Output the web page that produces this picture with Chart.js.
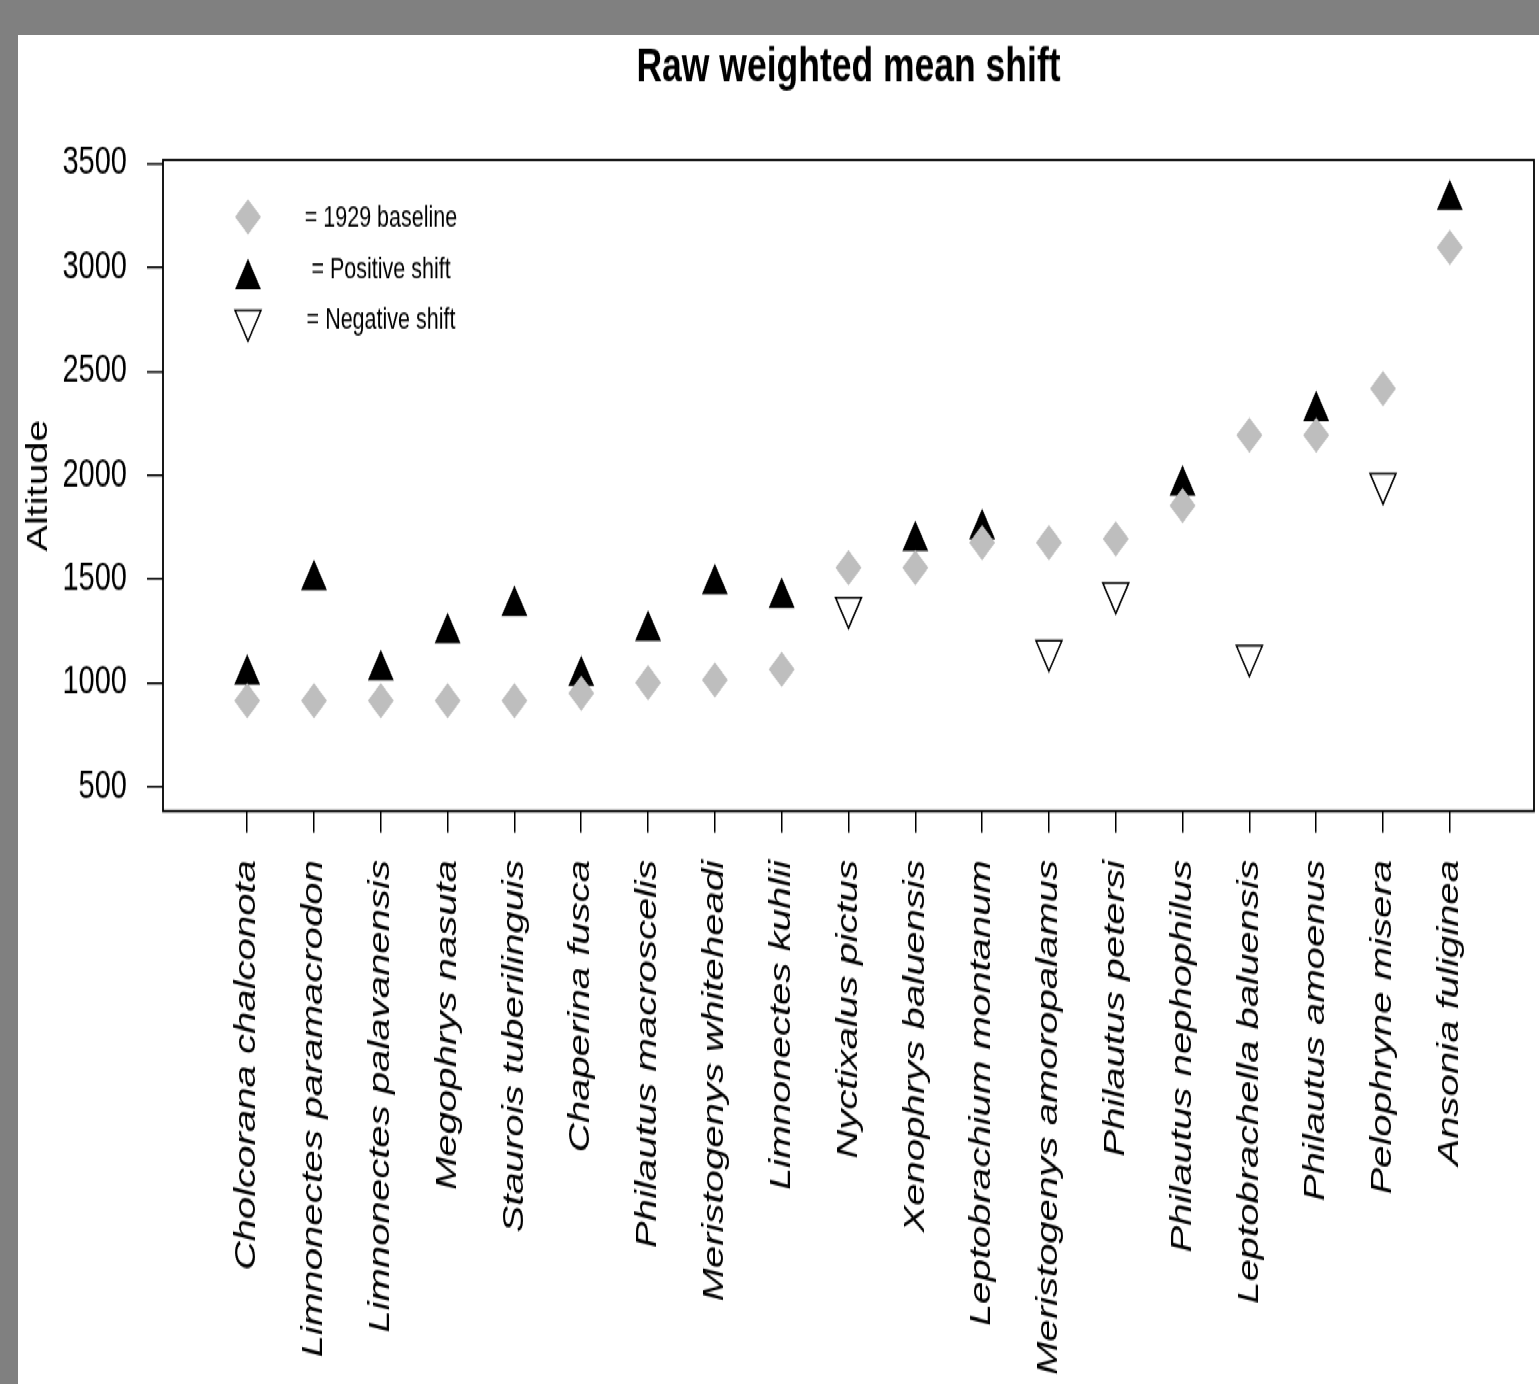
<!DOCTYPE html>
<html>
<head>
<meta charset="utf-8">
<title>Raw weighted mean shift</title>
<script src="https://cdn.jsdelivr.net/npm/chart.js@4/dist/chart.umd.min.js"></script>
<style>
  html, body { margin: 0; padding: 0; background: #808080; }
  body { width: 1539px; height: 1384px; position: relative; overflow: hidden; }
  #panel {
    position: absolute; left: 18px; top: 35px;
    width: 1521px; height: 992px;
    background: #fff;
    /* the original picture is stretched vertically */
    transform: scaleY(1.36); transform-origin: 0 0;
  }
</style>
</head>
<body>
<div id="panel"><canvas id="shiftChart"></canvas></div>
<script>
// species along the x axis
const species = [
  'Cholcorana chalconota', 'Limnonectes paramacrodon', 'Limnonectes palavanensis',
  'Megophrys nasuta', 'Staurois tuberilinguis', 'Chaperina fusca',
  'Philautus macroscelis', 'Meristogenys whiteheadi', 'Limnonectes kuhlii',
  'Nyctixalus pictus', 'Xenophrys baluensis', 'Leptobrachium montanum',
  'Meristogenys amoropalamus', 'Philautus petersi', 'Philautus nephophilus',
  'Leptobrachella baluensis', 'Philautus amoenus', 'Pelophryne misera',
  'Ansonia fuliginea'
];

// altitude (m)
const baseline1929 = [914, 914, 914, 914, 914, 951, 1002, 1014, 1065, 1554,
  1554, 1675, 1675, 1694, 1853, 2192, 2192, 2416, 3096];
const positiveShift = [1041, 1496, 1062, 1240, 1371, 1034, 1251, 1476, 1410, null,
  1684, 1741, null, null, 1951, null, 2308, null, 3325];
const negativeShift = [null, null, null, null, null, null, null, null, null, 1362,
  null, null, 1155, 1432, null, 1130, null, 1959, null];

const yTicks = [500, 1000, 1500, 2000, 2500, 3000, 3500];
const chartTitle = 'Raw weighted mean shift';
const legendLabels = ['= 1929 baseline', '= Positive shift', '= Negative shift'];

const FONT = '"Liberation Sans", Arial, Helvetica, sans-serif';
Chart.defaults.font.family = FONT;
Chart.defaults.color = '#000';

function toPoints(values) {
  return values.map((v, i) => (v === null ? null : { x: i + 1, y: v })).filter(p => p);
}

// title centred over the plot box, like R's main=
const titlePlugin = {
  id: 'plotTitle',
  afterDraw(chart) {
    const { ctx, chartArea } = chart;
    ctx.save();
    ctx.font = 'bold 35.5px ' + FONT;
    ctx.fillStyle = '#000';
    ctx.textAlign = 'center';
    ctx.textBaseline = 'alphabetic';
    ctx.fillText(chartTitle, (chartArea.left + chartArea.right) / 2, 33.5);
    ctx.restore();
  }
};

// box around the plot region
const boxPlugin = {
  id: 'plotBox',
  afterDatasetsDraw(chart) {
    const { ctx, chartArea } = chart;
    ctx.save();
    ctx.strokeStyle = '#000';
    ctx.lineWidth = 1.8;
    ctx.strokeRect(chartArea.left, chartArea.top, chartArea.right - chartArea.left, chartArea.bottom - chartArea.top);
    ctx.restore();
  }
};

// legend drawn inside the plot, top left
const legendPlugin = {
  id: 'insideLegend',
  afterDraw(chart) {
    const { ctx, chartArea } = chart;
    const markY = [41.8, 87.5, 118];
    const textY = [42.7, 80.9, 117.7];
    ctx.save();
    chart.data.datasets.forEach((ds, i) => {
      ctx.fillStyle = ds.backgroundColor;
      ctx.strokeStyle = ds.borderColor;
      ctx.lineWidth = ds.borderWidth;
      Chart.helpers.drawPoint(ctx, {
        pointStyle: ds.pointStyle,
        rotation: ds.rotation || 0,
        radius: ds.pointRadius,
        borderWidth: ds.borderWidth
      }, chartArea.left + 85, chartArea.top + markY[i]);
      ctx.font = '21.5px ' + FONT;
      ctx.fillStyle = '#000';
      ctx.textAlign = 'center';
      ctx.textBaseline = 'middle';
      ctx.fillText(legendLabels[i], chartArea.left + 218, chartArea.top + textY[i]);
    });
    ctx.restore();
  }
};

const tickGrid = {
  drawOnChartArea: false,
  drawTicks: true,
  tickLength: 16,
  color: '#000',
  lineWidth: 1.5
};

new Chart(document.getElementById('shiftChart'), {
  type: 'scatter',
  data: {
    datasets: [
      {
        label: '1929 baseline',
        data: toPoints(baseline1929),
        pointStyle: 'rectRot',
        pointRadius: 13,
        backgroundColor: '#bebebe',
        borderColor: '#bebebe',
        borderWidth: 0
      },
      {
        label: 'Positive shift',
        data: toPoints(positiveShift),
        pointStyle: 'triangle',
        pointRadius: 15,
        backgroundColor: '#000',
        borderColor: '#000',
        borderWidth: 0
      },
      {
        label: 'Negative shift',
        data: toPoints(negativeShift),
        pointStyle: 'triangle',
        rotation: 180,
        pointRadius: 15,
        backgroundColor: '#fff',
        borderColor: '#000',
        borderWidth: 1.5
      }
    ]
  },
  options: {
    responsive: true,
    maintainAspectRatio: false,
    animation: false,
    layout: { autoPadding: false, padding: { top: 92, right: 5, left: 0, bottom: 0 } },
    plugins: {
      legend: { display: false },
      tooltip: { enabled: false }
    },
    scales: {
      x: {
        type: 'linear',
        min: -0.26,
        max: 20.26,
        border: { display: false },
        grid: tickGrid,
        afterBuildTicks: axis => { axis.ticks = species.map((s, i) => ({ value: i + 1 })); },
        afterFit: axis => { axis.height = 992 - 570.6; },
        ticks: {
          autoSkip: false,
          maxRotation: 90,
          minRotation: 90,
          padding: 20,
          color: '#000',
          font: { size: 29.5, style: 'italic' },
          callback: v => species[v - 1]
        }
      },
      y: {
        type: 'linear',
        min: 384,
        max: 3516,
        border: { display: false },
        grid: tickGrid,
        afterBuildTicks: axis => { axis.ticks = yTicks.map(v => ({ value: v })); },
        afterFit: axis => { axis.width = 145; },
        ticks: {
          padding: 20,
          color: '#000',
          font: { size: 29 },
          callback: v => String(v)
        },
        title: {
          display: true,
          text: 'Altitude',
          color: '#000',
          font: { size: 29 },
          padding: { top: 4, bottom: 0 }
        }
      }
    }
  },
  plugins: [titlePlugin, boxPlugin, legendPlugin]
});
</script>
</body>
</html>
